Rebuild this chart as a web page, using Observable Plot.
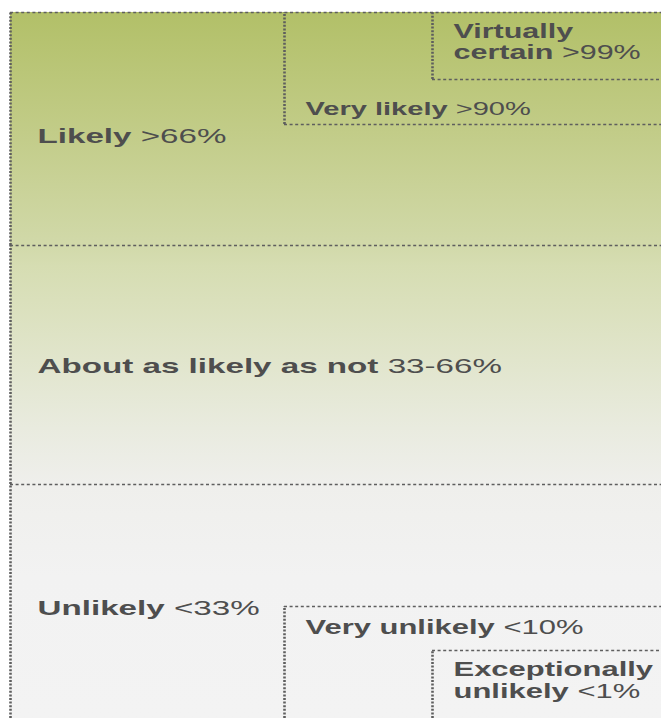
<!DOCTYPE html>
<html><head><meta charset="utf-8">
<script src="https://cdn.jsdelivr.net/npm/d3@7"></script>
<script src="https://cdn.jsdelivr.net/npm/@observablehq/plot@0.6"></script>
<style>html,body{margin:0;padding:0;background:#fff;} svg{display:block}</style>
</head><body><div id="chart"></div>
<script>
// Likelihood categories (IPCC calibrated language)
const names = ["Virtually\ncertain", "Very likely", "Likely", "About as likely as not", "Unlikely", "Very unlikely", "Exceptionally\nunlikely"];
const ranges = [">99%", ">90%", ">66%", "33-66%", "<33%", "<10%", "<1%"];
const lower = [99, 90, 66, 33, 0, 0, 0];      // probability lower bound (%)
const upper = [100, 100, 100, 66, 33, 10, 1]; // probability upper bound (%)
const nesting = [2, 1, 0, 0, 0, 1, 2];        // nesting depth of each box
const thresholds = [100, 99, 90, 66, 33, 10, 1, 0];
const levels = [0, 1, 2, 3];
const labelAt = [99, 90, 90, 49.5, 10, 10, 1]; // probability at which each label is anchored

// layout / styles (diagram geometry: where each threshold and nesting level sits on the page)
const bandEdges = [12, 79, 124, 245, 484, 606, 650, 718];
const levelEdges = [10, 284, 432, 661];
const labelDy = [-21, -10, 18, 7.5, 8, 27, 47];
const labelDx = [21, 21, 27, 27, 27, 21, 21];
const labelSize = [19.3, 18.4, 21, 21, 21, 19.6, 19.6];
const sx = 1.58;

const boxes = names.map((n, i) => ({name: n, range: ranges[i], lo: lower[i], hi: upper[i], level: nesting[i], at: labelAt[i]}));
const hEdges = boxes.filter(d => d.hi === 100 || d.lo === 0).map(d => ({level: d.level, p: d.hi === 100 ? d.lo : d.hi}));
hEdges.push({level: 0, p: 100});
const span = [{lo: d3.min(lower), hi: d3.max(upper), level: d3.min(nesting), end: d3.max(levels)}];

const defs = () => {
  const g = d3.create("svg:defs");
  const lg = g.append("linearGradient").attr("id", "bg").attr("x1", 0).attr("x2", 0).attr("y1", 0).attr("y2", 1);
  [[0, "#b2c068"], [0.17, "#c2cc88"], [0.32, "#d0d8a7"], [0.36, "#d6ddb2"], [0.59, "#e9ebdf"], [0.67, "#efefec"], [0.8, "#f2f2f2"], [1, "#f3f3f3"]]
    .forEach(([o, c]) => lg.append("stop").attr("offset", o).attr("stop-color", c));
  return g.node();
};

const labelMarks = boxes.map((d, i) => Plot.text([d], {
  x: "level", y: "at", text: b => b.name + " " + b.range,
  textAnchor: "start", lineAnchor: "bottom", lineHeight: 1.08,
  dx: labelDx[i], dy: labelDy[i],
  fontSize: labelSize[i], fontWeight: "bold", fill: "#4e4e4e",
  fontFamily: "Liberation Sans, Arial, sans-serif"
}));

const svg = Plot.plot({
  width: 661, height: 718,
  marginTop: 0, marginRight: 0, marginBottom: 0, marginLeft: 0,
  x: {transform: d3.scaleLinear(levels, levelEdges), domain: [0, 661], range: [0, 661], axis: null},
  y: {transform: d3.scaleLinear(thresholds, bandEdges), domain: [0, 718], range: [0, 718], axis: null},
  style: {background: "white", fontFamily: "Liberation Sans, Arial, sans-serif"},
  marks: [
    defs,
    Plot.rect(span, {x1: "level", x2: "end", y1: "lo", y2: "hi", fill: "url(#bg)"}),
    Plot.ruleY(hEdges, {y: "p", x1: "level", x2: () => 3, stroke: "#5e5e5e", strokeWidth: 1.6, strokeDasharray: "3,2.6"}),
    Plot.ruleX(boxes, {x: "level", y1: "lo", y2: "hi", stroke: "#5e5e5e", strokeWidth: 2.6, strokeDasharray: "2,1.6"}),
    ...labelMarks
  ]
});

svg.querySelectorAll('g[aria-label="text"] text').forEach(t => {
  const tr = t.getAttribute("transform");
  if (tr) t.setAttribute("transform", tr + ` scale(${sx},1)`);
  const tsp = t.querySelectorAll("tspan");
  const leaf = tsp.length ? tsp[tsp.length - 1] : t;
  const s = leaf.textContent;
  const k = s.lastIndexOf(" ");
  leaf.textContent = s.slice(0, k + 1);
  const n = document.createElementNS("http://www.w3.org/2000/svg", "tspan");
  n.setAttribute("font-weight", "normal");
  n.textContent = s.slice(k + 1);
  leaf.appendChild(n);
});

document.getElementById("chart").appendChild(svg);
</script>
</body></html>
